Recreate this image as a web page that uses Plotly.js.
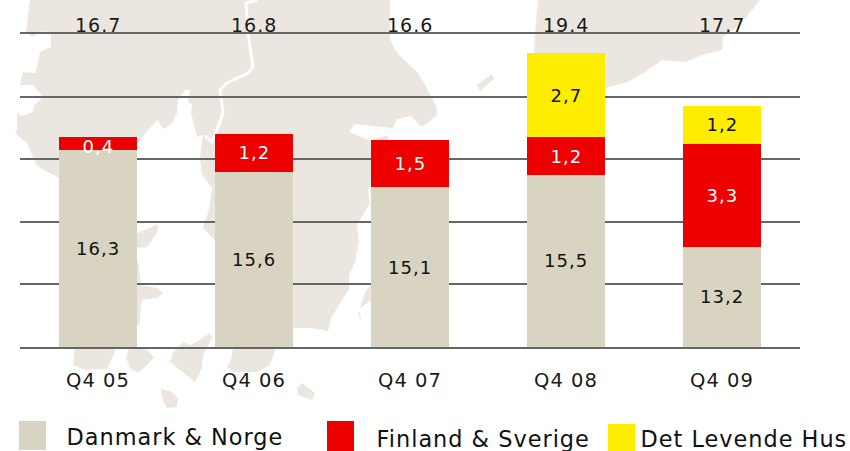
<!DOCTYPE html>
<html>
<head>
<meta charset="utf-8">
<script src="https://cdn.plot.ly/plotly-3.0.0.min.js"></script>
<style>html,body{margin:0;padding:0;background:#fff}#c{width:850px;height:451px}#c svg text{letter-spacing:1px}</style>
</head>
<body>
<div id="c"></div>
<script>
var categories = ['Q4 05','Q4 06','Q4 07','Q4 08','Q4 09'];
var danmarkNorge = [16.3,15.6,15.1,15.5,13.2];
var finlandSverige = [0.4,1.2,1.5,1.2,3.3];
var detLevendeHus = [null,null,null,2.7,1.2];
var totals = ['16.7','16.8','16.6','19.4','17.7'];
var seriesNames = ['Danmark & Norge','Finland & Sverige','Det Levende Hus'];
var colors = ['#D9D4C1','#EC0000','#FFED00'];
var axisBase = 10;

// decorative background map of the Nordic region (page pixels)
var mapLand = [
 "30,0 26,32 32,37 42,31 51,35 51,47 40,52 38,63 35,73 23,72 20,85 33,85 43,97 34,105 33,112 22,116 17,113 17,130 15,133 27,143 37,166 59,178 100,210 138,142 157,120 164,129 172,123 177,113 178,100 185,90 190,90 188,102 192,105 191,113 197,137 203,135 200,157 202,175 212,188 209,210 203,228 215,240 230,320 293,328 310,328 328,331 331,318 349,289 349,275 355,262 359,242 357,225 370,203 368,190 390,142 387,135 371,141 349,132 355,124 393,128 397,119 411,116 422,127 437,115 437,108 433,100 425,85 417,72 397,53 390,40 390,0",
 "538,0 535,33 534,52 560,120 605,88 628,82 645,72 662,60 685,62 702,55 722,50 723,37 740,25 760,0",
 "477,85 492,74 494,79 480,91",
 "120,225 138,233 158,224 157,233 147,247 138,248",
 "120,262 138,262 141,285 157,288 163,293 157,298 142,300 139,325 120,330",
 "75,347 73,365 85,370 107,369 117,347",
 "126,358 128,350 138,347 147,350 154,357 147,365 138,373 130,368",
 "170,362 173,353 183,342 190,345 200,340 210,333 212,338 203,355 202,368 195,382",
 "161,389 170,391 178,398 177,407 167,408 163,402",
 "233,347 231,360 227,367 233,372 257,372 270,365 275,350 275,347",
 "297,388 302,383 315,393 312,400 298,395",
 "380,280 371,285 365,292 360,308 371,300 380,296",
 "358,313 360,312 361,322"
];
var mapBorder = "257,0 246,3 248,33 253,67 248,73 227,83 220,90 223,113 217,130 212,142 205,136";

var mapSvg = '<svg xmlns="http://www.w3.org/2000/svg" width="850" height="451" viewBox="0 0 850 451">' +
  mapLand.map(function(p){return '<polygon points="'+p+'" fill="#EBE7E0"/>';}).join('') +
  '<polyline points="'+mapBorder+'" fill="none" stroke="#fff" stroke-width="3"/></svg>';

var W=850,H=451,M={l:20,r:50,t:34,b:104};
var pw=W-M.l-M.r, ph=H-M.t-M.b;
var valueFont='DejaVu Sans';
var fmt=function(v){return v.toFixed(1).replace('.',',');};

var series=[danmarkNorge,finlandSverige,detLevendeHus];
var traces=series.map(function(vals,i){
  return {type:'bar',name:seriesNames[i],x:categories,y:vals,marker:{color:colors[i],line:{width:0}},hoverinfo:'x+y+name'};
});

var annotations=[];
categories.forEach(function(c,j){
  var base=0;
  series.forEach(function(vals,i){
    var v=vals[j]; if(v===null) return;
    var lo=Math.max(base,axisBase), hi=base+v;
    annotations.push({x:c,y:(lo+hi)/2,xref:'x',yref:'y',text:fmt(v),showarrow:false,
      yshift:(v===0.4?-3:0),
      font:{family:valueFont,size:18,color:(i===1?'#ffffff':'#111111')}});
    base=hi;
  });
  annotations.push({x:c,y:20,xref:'x',yref:'y',yanchor:'bottom',yshift:-4,text:totals[j],showarrow:false,
    font:{family:valueFont,size:19,color:'#1a1a1a'}});
});

var legendX=[[19,46,72,421,450],[327,354,383,421,451],[608,635,646,424,451]];
var shapes=[];
seriesNames.forEach(function(n,i){
  var L=legendX[i];
  shapes.push({type:'rect',xref:'paper',yref:'paper',layer:'above',
    x0:(L[0]-M.l)/pw,x1:(L[1]-M.l)/pw,
    y0:(H-M.b-L[4])/ph,y1:(H-M.b-L[3])/ph,
    fillcolor:colors[i],line:{width:0}});
  annotations.push({xref:'paper',yref:'paper',xanchor:'left',yanchor:'middle',
    x:(L[2]-M.l)/pw,y:(H-M.b-437-(i?2:0))/ph,text:n,showarrow:false,
    font:{family:valueFont,size:22.4,color:'#111111'}});
});

var layout={
  width:W,height:H,margin:M,barmode:'stack',bargap:0.495,showlegend:false,
  paper_bgcolor:'#ffffff',plot_bgcolor:'rgba(0,0,0,0)',
  xaxis:{type:'category',range:[-0.5,4.5],showgrid:false,zeroline:false,
    showline:true,mirror:true,linecolor:'#666666',linewidth:2,layer:'below traces',
    ticks:'outside',ticklen:15,tickcolor:'rgba(0,0,0,0)',
    tickfont:{family:valueFont,size:19.5,color:'#1a1a1a'}},
  yaxis:{range:[axisBase,20],dtick:2,tick0:0,showticklabels:false,ticks:'',zeroline:false,
    showgrid:true,gridcolor:'#666666',gridwidth:2,showline:false},
  annotations:annotations,shapes:shapes,
  images:[{source:'data:image/svg+xml;charset=utf-8,'+encodeURIComponent(mapSvg),
    xref:'paper',yref:'paper',x:-M.l/pw,y:1+M.t/ph,sizex:W/pw,sizey:H/ph,
    xanchor:'left',yanchor:'top',sizing:'stretch',layer:'below'}]
};
Plotly.newPlot('c',traces,layout,{displayModeBar:false,staticPlot:true});
</script>
</body>
</html>
